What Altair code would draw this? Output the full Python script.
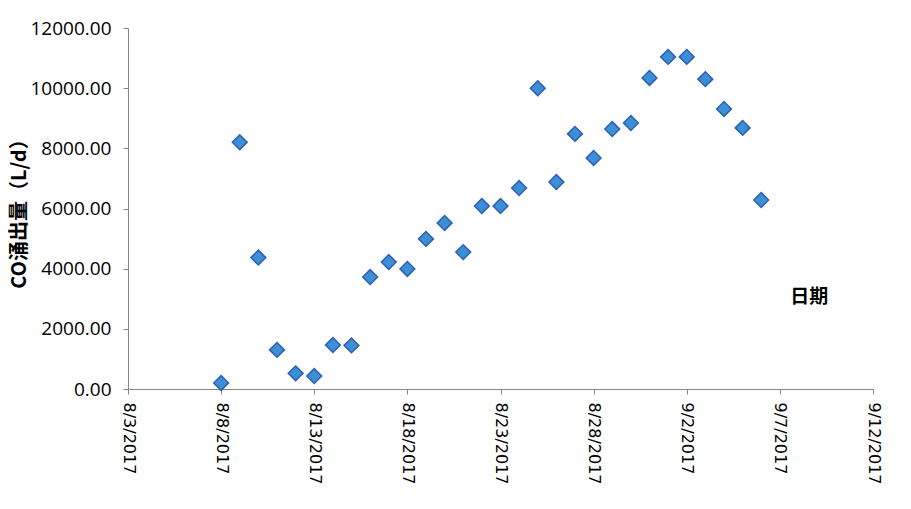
import altair as alt
import pandas as pd

dates = pd.date_range("2017-08-08", "2017-09-06", freq="D").strftime("%Y-%m-%d").tolist()
values = [200, 8200, 4370, 1300, 520, 430, 1460, 1450, 3720, 4220,
          3990, 4990, 5520, 4550, 6080, 6080, 6680, 10000, 6880, 8480,
          7680, 8640, 8840, 10340, 11040, 11040, 10300, 9310, 8680, 6280]

tick_dates = ["2017-08-03", "2017-08-08", "2017-08-13", "2017-08-18", "2017-08-23",
              "2017-08-28", "2017-09-02", "2017-09-07", "2017-09-12"]
y_ticks = [0, 2000, 4000, 6000, 8000, 10000, 12000]

df = pd.DataFrame({"date": dates, "value": values})


def dt(s):
    y, m, d = map(int, s.split("-"))
    return alt.DateTime(year=y, month=m, date=d, utc=True)


x_scale = alt.Scale(type="utc", domain=[dt(tick_dates[0]), dt(tick_dates[-1])], nice=False)
y_scale = alt.Scale(domain=[0, 12000], nice=False)

axis_color = "#868686"

x_axis = alt.Axis(values=[dt(t) for t in tick_dates],
                  labelExpr="utcFormat(datum.value, '%-m/%-d/%Y')",
                  labelAngle=90, labelAlign="left", labelBaseline="middle",
                  labelFont="DejaVu Sans", labelFontSize=16, labelColor="#000000",
                  tickSize=5, labelPadding=8, domainColor=axis_color, tickColor=axis_color,
                  grid=False, labelOverlap=False, labelFlush=False)
y_axis = alt.Axis(values=y_ticks, format=".2f", labelFont="Open Sans", labelFontSize=19,
                  labelColor="#000000", tickSize=5, labelPadding=12,
                  domainColor=axis_color, tickColor=axis_color, grid=False,
                  titleFont="Noto Sans CJK SC", titleFontSize=20, titleFontWeight="bold",
                  titleColor="#000000", titlePadding=0)

points = alt.Chart(df).mark_point(
    shape="diamond", filled=True, size=220, fill="#3A8FD5", stroke="#2E5FB5",
    strokeWidth=1.5, opacity=1
).encode(
    x=alt.X("date:T", scale=x_scale, title=None, axis=x_axis),
    y=alt.Y("value:Q", scale=y_scale, title="CO涌出量（L/d）", axis=y_axis),
)

label_df = pd.DataFrame({"date": ["2017-09-08T14:00:00Z"], "value": [3050], "text": ["日期"]})
label = alt.Chart(label_df).mark_text(
    font="Noto Sans CJK SC", fontSize=19, fontWeight="bold", color="#000000"
).encode(
    x=alt.X("date:T", scale=x_scale, title=None, axis=x_axis),
    y=alt.Y("value:Q", scale=y_scale, title="CO涌出量（L/d）", axis=y_axis),
    text="text:N",
)

chart = alt.layer(points, label).properties(
    width=745, height=361,
    autosize=alt.AutoSizeParams(type="none"),
    padding={"left": 120, "top": 20, "right": 30, "bottom": 110},
).configure(background="white").configure_view(stroke=None, strokeWidth=0)

chart.save("out.html", embed_options={"renderer": "svg", "actions": False})
